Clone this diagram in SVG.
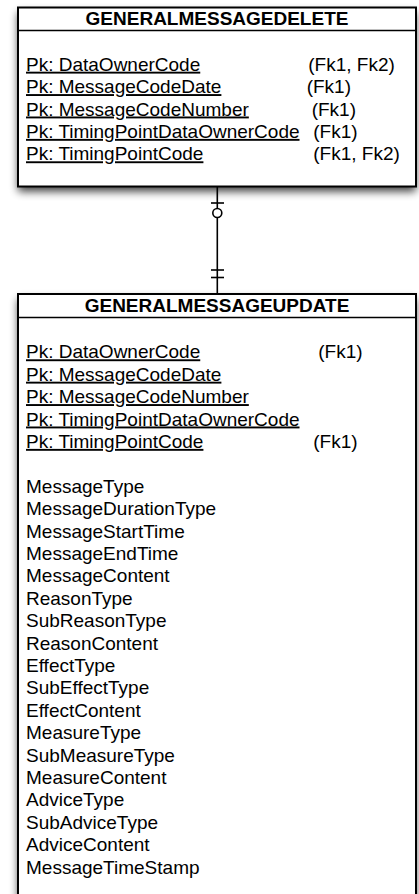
<svg xmlns="http://www.w3.org/2000/svg" width="419" height="894" viewBox="0 0 419 894">
<defs>
<filter id="sh" x="-10%" y="-10%" width="120%" height="130%">
<feGaussianBlur in="SourceAlpha" stdDeviation="4"/>
<feOffset dx="0" dy="5" result="b"/>
<feComponentTransfer><feFuncA type="linear" slope="0.75"/></feComponentTransfer>
</filter>
</defs>
<style>
.box{fill:#fff;stroke:#000;stroke-width:2}
.sep{stroke:#000;stroke-width:1.5}
.hd{font-family:"Liberation Sans",Arial,sans-serif;font-size:19px;font-weight:bold;text-anchor:middle;fill:#000}
.t{font-family:"Liberation Sans",Arial,sans-serif;font-size:19px;fill:#000}
.pk{text-decoration:underline}
.ln{stroke:#000;stroke-width:1.6;fill:none}
</style>
<g id="GENERALMESSAGEDELETE">
<rect x="18" y="7.5" width="398" height="179" fill="#000" filter="url(#sh)"/>
<rect class="box" x="18" y="7.5" width="398" height="179"/>
<line class="sep" x1="18" y1="30.5" x2="416" y2="30.5"/>
<text class="hd" x="217" y="25.3">GENERALMESSAGEDELETE</text>
<text class="t pk" x="26" y="70.7">Pk: DataOwnerCode</text>
<text class="t pk" x="26" y="93.1">Pk: MessageCodeDate</text>
<text class="t pk" x="26" y="115.5">Pk: MessageCodeNumber</text>
<text class="t pk" x="26" y="137.9">Pk: TimingPointDataOwnerCode</text>
<text class="t pk" x="26" y="160.3">Pk: TimingPointCode</text>
<text class="t" x="308.3" y="70.7">(Fk1, Fk2)</text>
<text class="t" x="306.7" y="93.1">(Fk1)</text>
<text class="t" x="311.7" y="115.5">(Fk1)</text>
<text class="t" x="313.3" y="137.9">(Fk1)</text>
<text class="t" x="313.3" y="160.3">(Fk1, Fk2)</text>
</g>
<g id="GENERALMESSAGEUPDATE">
<rect x="18" y="294" width="398" height="620" fill="#000" filter="url(#sh)"/>
<rect class="box" x="18" y="294" width="398" height="620"/>
<line class="sep" x1="18" y1="317.5" x2="416" y2="317.5"/>
<text class="hd" x="217" y="311.5">GENERALMESSAGEUPDATE</text>
<text class="t pk" x="26" y="358.3">Pk: DataOwnerCode</text>
<text class="t pk" x="26" y="380.7">Pk: MessageCodeDate</text>
<text class="t pk" x="26" y="403.1">Pk: MessageCodeNumber</text>
<text class="t pk" x="26" y="425.5">Pk: TimingPointDataOwnerCode</text>
<text class="t pk" x="26" y="447.9">Pk: TimingPointCode</text>
<text class="t" x="318.3" y="358.3">(Fk1)</text>
<text class="t" x="313.3" y="447.9">(Fk1)</text>
<text class="t" x="26" y="492.7">MessageType</text>
<text class="t" x="26" y="515.1">MessageDurationType</text>
<text class="t" x="26" y="537.5">MessageStartTime</text>
<text class="t" x="26" y="559.9">MessageEndTime</text>
<text class="t" x="26" y="582.3">MessageContent</text>
<text class="t" x="26" y="604.7">ReasonType</text>
<text class="t" x="26" y="627.1">SubReasonType</text>
<text class="t" x="26" y="649.5">ReasonContent</text>
<text class="t" x="26" y="671.9">EffectType</text>
<text class="t" x="26" y="694.3">SubEffectType</text>
<text class="t" x="26" y="716.7">EffectContent</text>
<text class="t" x="26" y="739.1">MeasureType</text>
<text class="t" x="26" y="761.5">SubMeasureType</text>
<text class="t" x="26" y="783.9">MeasureContent</text>
<text class="t" x="26" y="806.3">AdviceType</text>
<text class="t" x="26" y="828.7">SubAdviceType</text>
<text class="t" x="26" y="851.1">AdviceContent</text>
<text class="t" x="26" y="873.5">MessageTimeStamp</text>
</g>
<g id="connectors">
<line class="ln" x1="217.3" y1="187" x2="217.3" y2="293"/>
<line class="ln" x1="211" y1="203" x2="224" y2="203"/>
<circle class="ln" cx="217.3" cy="213" r="4.5" fill="#fff" style="fill:#fff"/>
<line class="ln" x1="211" y1="270" x2="224" y2="270"/>
<line class="ln" x1="211" y1="277.5" x2="224" y2="277.5"/>
</g>
</svg>
